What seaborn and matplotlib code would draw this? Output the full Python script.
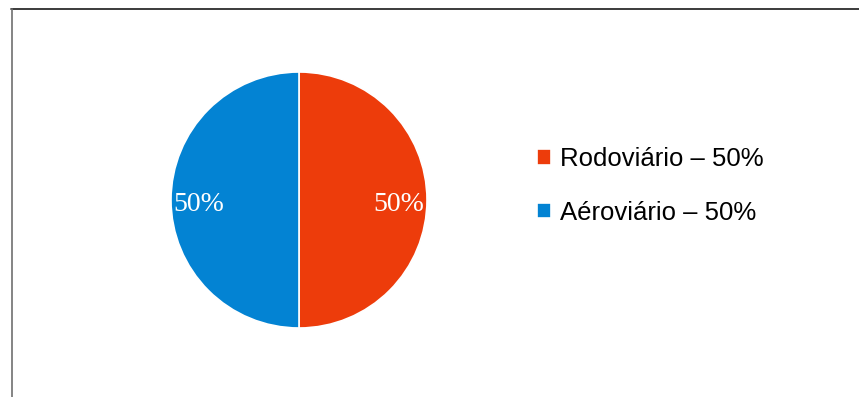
import matplotlib
matplotlib.use("Agg")
import matplotlib.pyplot as plt
from matplotlib.lines import Line2D
import seaborn as sns

categories = ["Rodoviário", "Aéroviário"]
values = [50, 50]
colors = ["#ED3C0B", "#0383D3"]

sns.set_theme(style="white")
plt.rcParams['font.family'] = ['Liberation Sans', 'DejaVu Sans']

W, H = 859, 397
fig = plt.figure(figsize=(W / 100, H / 100), dpi=100)
fig.patch.set_facecolor("white")

cx, cy, r = 299, 200, 128
ax = fig.add_axes([(cx - r) / W, (H - cy - r) / H, 2 * r / W, 2 * r / H])
wedges, texts, autotexts = ax.pie(
    values, colors=colors, startangle=90, counterclock=False,
    autopct=lambda p: f"{p:.0f}%", pctdistance=0.78,
    wedgeprops=dict(edgecolor="white", linewidth=1.2),
    textprops=dict(color="white", family="Liberation Serif", fontsize=20),
)
ax.set_xlim(-1, 1)
ax.set_ylim(-1, 1)
ax.set_aspect("equal")
ax.axis("off")
for t in autotexts:
    x, y = t.get_position()
    t.set_position((x, y - 0.035))

labels = [f"{c} – {v}%" for c, v in zip(categories, values)]
leg = fig.legend(wedges, labels, loc="center left",
                 bbox_to_anchor=(527 / W, 1 - 186 / H), frameon=False,
                 fontsize=18.5, handlelength=0.55, handleheight=0.55,
                 handletextpad=0.33, labelspacing=1.15, borderaxespad=0)
for t in leg.get_texts():
    t.set_color("black")

fig.add_artist(Line2D([11 / W, 1], [1 - 9 / H, 1 - 9 / H], color="#1a1a1a", lw=1.2,
                      transform=fig.transFigure))
fig.add_artist(Line2D([11.5 / W, 11.5 / W], [0, 1 - 9 / H], color="#707070", lw=1.2,
                      transform=fig.transFigure))

fig.savefig("out.png", dpi=100, facecolor="white")
